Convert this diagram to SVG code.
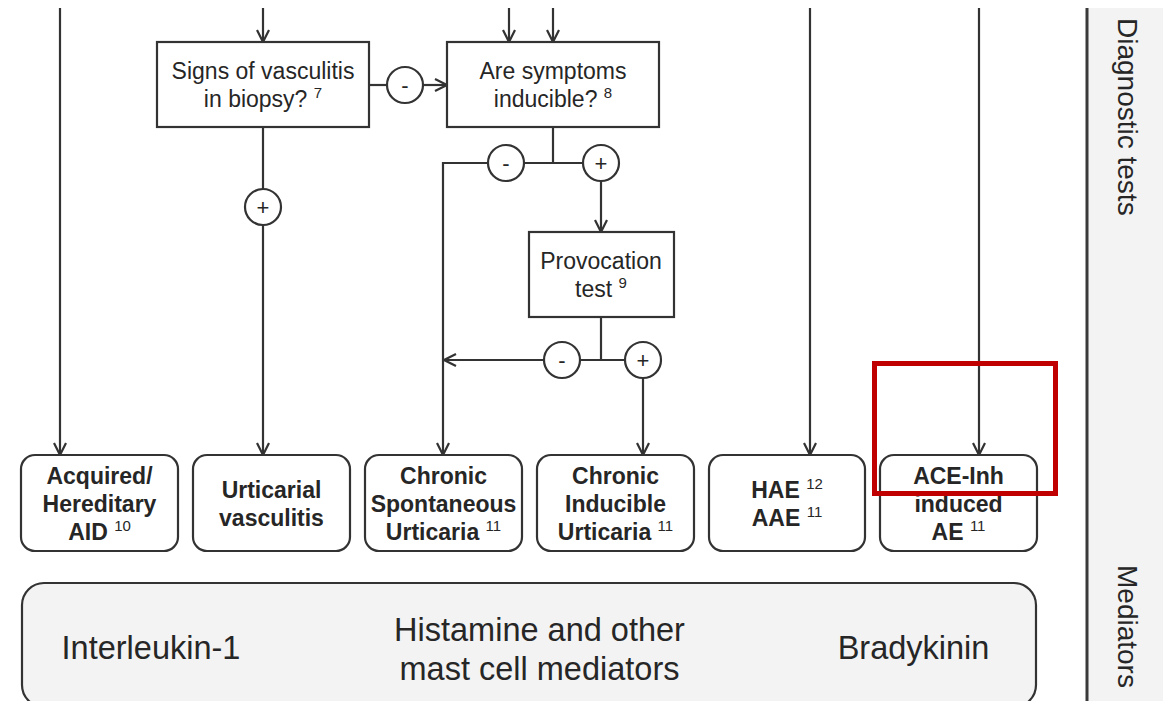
<svg xmlns="http://www.w3.org/2000/svg" width="1163" height="701" viewBox="0 0 1163 701">
  <style>
    .ln { fill: none; stroke: #333333; stroke-width: 2.2; }
    .arr { marker-end: url(#chev); }
    .box { fill: #ffffff; stroke: #333333; stroke-width: 2.2; }
    .dx { fill: #ffffff; stroke: #333333; stroke-width: 2.2; }
    .t { font-family: "Liberation Sans", Arial, sans-serif; fill: #262626; text-anchor: middle; }
    .q { font-size: 23px; }
    .b { font-size: 23px; font-weight: bold; }
    .sup { font-size: 15px; font-weight: normal; }
    .sgn { font-size: 22px; }
    .med { font-size: 32.5px; }
    .side { font-family: "Liberation Sans", Arial, sans-serif; fill: #262626; font-size: 28px; }
  </style>
  <defs>
    <marker id="chev" viewBox="0 0 14 14" refX="13" refY="7" markerWidth="14" markerHeight="14" markerUnits="userSpaceOnUse" orient="auto">
      <path d="M1,1 L13,7 L1,13" fill="none" stroke="#333333" stroke-width="2.2"/>
    </marker>
  </defs>

  <!-- page -->
  <rect x="0" y="0" width="1163" height="701" fill="#ffffff"/>
  <rect x="1088" y="8" width="75" height="693" fill="#f3f3f3"/>
  <line x1="1087" y1="8" x2="1087" y2="701" stroke="#3a3a3a" stroke-width="3"/>

  <!-- connectors -->
  <g id="connectors">
    <line class="ln arr" x1="60" y1="8" x2="60" y2="455"/>
    <line class="ln arr" x1="263" y1="8" x2="263" y2="42"/>
    <line class="ln arr" x1="509" y1="8" x2="509" y2="42"/>
    <line class="ln arr" x1="553" y1="8" x2="553" y2="42"/>
    <line class="ln arr" x1="810" y1="8" x2="810" y2="455"/>
    <line class="ln arr" x1="979" y1="8" x2="979" y2="455"/>

    <!-- biopsy: negative to inducibility question -->
    <line class="ln" x1="369" y1="85" x2="387" y2="85"/>
    <line class="ln arr" x1="423" y1="85" x2="447" y2="85"/>

    <!-- biopsy: positive to urticarial vasculitis -->
    <line class="ln" x1="263" y1="127" x2="263" y2="189"/>
    <line class="ln arr" x1="263" y1="225" x2="263" y2="455"/>

    <!-- inducible? branches -->
    <line class="ln" x1="553" y1="127" x2="553" y2="163"/>
    <line class="ln" x1="524" y1="163" x2="583" y2="163"/>
    <polyline class="ln arr" points="487,163 443,163 443,455"/>
    <line class="ln arr" x1="601" y1="181" x2="601" y2="232"/>

    <!-- provocation test branches -->
    <line class="ln" x1="601" y1="317" x2="601" y2="360"/>
    <line class="ln" x1="580" y1="360" x2="625" y2="360"/>
    <line class="ln arr" x1="544" y1="360" x2="444" y2="360"/>
    <line class="ln arr" x1="643" y1="378" x2="643" y2="455"/>
  </g>

  <!-- decision markers -->
  <g id="sign-biopsy-neg">
    <circle class="dx" cx="405" cy="85" r="18"/>
    <text class="t sgn" x="405" y="93">-</text>
  </g>
  <g id="sign-biopsy-pos">
    <circle class="dx" cx="263" cy="207" r="18"/>
    <text class="t sgn" x="263" y="215">+</text>
  </g>
  <g id="sign-inducible-neg">
    <circle class="dx" cx="506" cy="163" r="18"/>
    <text class="t sgn" x="506" y="171">-</text>
  </g>
  <g id="sign-inducible-pos">
    <circle class="dx" cx="601" cy="163" r="18"/>
    <text class="t sgn" x="601" y="171">+</text>
  </g>
  <g id="sign-provocation-neg">
    <circle class="dx" cx="562" cy="360" r="18"/>
    <text class="t sgn" x="562" y="368">-</text>
  </g>
  <g id="sign-provocation-pos">
    <circle class="dx" cx="643" cy="360" r="18"/>
    <text class="t sgn" x="643" y="368">+</text>
  </g>

  <!-- diagnostic test nodes -->
  <g id="node-biopsy">
    <rect class="box" x="157" y="42" width="212" height="85"/>
    <text class="t q" x="263" y="79">Signs of vasculitis</text>
    <text class="t q" x="263" y="107">in biopsy? <tspan class="sup" dy="-9">7</tspan></text>
  </g>
  <g id="node-inducible">
    <rect class="box" x="447" y="42" width="212" height="85"/>
    <text class="t q" x="553" y="79">Are symptoms</text>
    <text class="t q" x="553" y="107">inducible? <tspan class="sup" dy="-9">8</tspan></text>
  </g>
  <g id="node-provocation">
    <rect class="box" x="529" y="232" width="145" height="85"/>
    <text class="t q" x="601" y="269">Provocation</text>
    <text class="t q" x="601" y="297">test <tspan class="sup" dy="-9">9</tspan></text>
  </g>

  <!-- diagnoses -->
  <g id="dx-aid">
    <rect class="box" x="21" y="455" width="157" height="96" rx="14"/>
    <text class="t b" x="99.5" y="484">Acquired/</text>
    <text class="t b" x="99.5" y="512">Hereditary</text>
    <text class="t b" x="99.5" y="540">AID <tspan class="sup" dy="-9">10</tspan></text>
  </g>
  <g id="dx-uv">
    <rect class="box" x="193" y="455" width="157" height="96" rx="14"/>
    <text class="t b" x="271.5" y="498">Urticarial</text>
    <text class="t b" x="271.5" y="526">vasculitis</text>
  </g>
  <g id="dx-csu">
    <rect class="box" x="365" y="455" width="157" height="96" rx="14"/>
    <text class="t b" x="443.5" y="484">Chronic</text>
    <text class="t b" x="443.5" y="512">Spontaneous</text>
    <text class="t b" x="443.5" y="540">Urticaria <tspan class="sup" dy="-9">11</tspan></text>
  </g>
  <g id="dx-ciu">
    <rect class="box" x="537" y="455" width="157" height="96" rx="14"/>
    <text class="t b" x="615.5" y="484">Chronic</text>
    <text class="t b" x="615.5" y="512">Inducible</text>
    <text class="t b" x="615.5" y="540">Urticaria <tspan class="sup" dy="-9">11</tspan></text>
  </g>
  <g id="dx-hae">
    <rect class="box" x="709" y="455" width="156" height="96" rx="14"/>
    <text class="t b" x="787" y="498">HAE <tspan class="sup" dy="-9">12</tspan></text>
    <text class="t b" x="787" y="526">AAE <tspan class="sup" dy="-9">11</tspan></text>
  </g>
  <g id="dx-ace">
    <rect class="box" x="880" y="455" width="157" height="96" rx="14"/>
    <text class="t b" x="958.5" y="484">ACE-Inh</text>
    <text class="t b" x="958.5" y="512">induced</text>
    <text class="t b" x="958.5" y="540">AE <tspan class="sup" dy="-9">11</tspan></text>
  </g>

  <!-- highlight frame -->
  <rect x="874.5" y="363.5" width="181" height="130" fill="none" stroke="#c00000" stroke-width="5"/>

  <!-- mediators band -->
  <g id="mediators">
    <rect x="22" y="583" width="1014" height="124" rx="22" fill="#f3f3f3" stroke="#333333" stroke-width="2.2"/>
    <text class="t med" x="151" y="659">Interleukin-1</text>
    <text class="t med" x="539.5" y="641">Histamine and other</text>
    <text class="t med" x="539.5" y="680">mast cell mediators</text>
    <text class="t med" x="913.5" y="659">Bradykinin</text>
  </g>

  <!-- row labels -->
  <text class="side" transform="translate(1118,18) rotate(90)">Diagnostic tests</text>
  <text class="side" transform="translate(1118,565) rotate(90)">Mediators</text>
</svg>
